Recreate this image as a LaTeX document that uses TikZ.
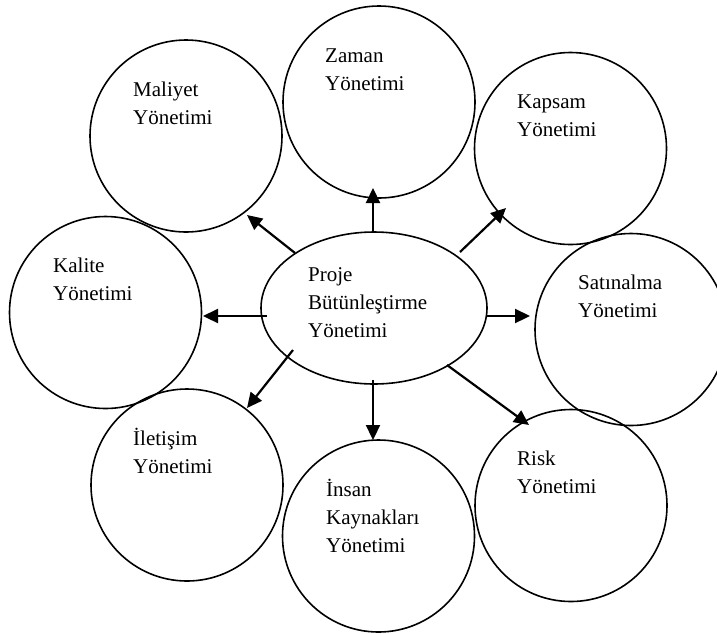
\documentclass[tikz,border=0pt]{standalone}
\usepackage{fontspec}
\setmainfont{Liberation Serif}
\usetikzlibrary{arrows.meta,calc,shapes.geometric}
\begin{document}
\begin{tikzpicture}[x=1pt,y=-1pt,
  area/.style={circle,draw,line width=1.6pt,minimum size=192pt,inner sep=0pt},
  hub/.style={ellipse,draw,line width=1.6pt,minimum width=226pt,minimum height=152pt,inner sep=0pt},
  txt/.style={anchor=north west,align=left,inner sep=0pt,font=\fontsize{21}{28}\selectfont},
  link/.style={line width=2.2pt,-{Triangle[length=15pt,width=14pt]}}]
\useasboundingbox (0,0) rectangle (717,633);

% knowledge areas around the integration hub
\node[area] (zaman)    at (379,102)     {};
\node[area] (maliyet)  at (186,136)     {};
\node[area] (kapsam)   at (570.5,148.5) {};
\node[area] (kalite)   at (105.5,312.5) {};
\node[area] (satin)    at (631,329.5)   {};
\node[area] (iletisim) at (187,485)     {};
\node[area] (insan)    at (378.5,536)   {};
\node[area] (risk)     at (571,505.5)   {};
\node[hub]  (pb)       at (374,308)     {};

% labels, set in the upper left part of each shape
\node[txt] (zamant)    at ($(zaman)+(-54,-59.6)$)    {\strut Zaman\\\strut Yönetimi};
\node[txt] (maliyett)  at ($(maliyet)+(-53,-59.6)$)  {\strut Maliyet\\\strut Yönetimi};
\node[txt] (kapsamt)   at ($(kapsam)+(-53.5,-60)$)   {\strut Kapsam\\\strut Yönetimi};
\node[txt] (kalitet)   at ($(kalite)+(-52.5,-59.6)$) {\strut Kalite\\\strut Yönetimi};
\node[txt] (satint)    at ($(satin)+(-53,-59.6)$)    {\strut Satınalma\\\strut Yönetimi};
\node[txt] (iletisimt) at ($(iletisim)+(-54,-59.6)$) {\strut İletişim\\\strut Yönetimi};
\node[txt] (insant)    at ($(insan)+(-52.5,-59)$)    {\strut İnsan\\\strut Kaynakları\\\strut Yönetimi};
\node[txt] (riskt)     at ($(risk)+(-54,-60)$)       {\strut Risk\\\strut Yönetimi};
\node[txt] (pbt)       at ($(pb)+(-66,-45.9)$)       {\strut Proje\\\strut Bütünleştirme\\\strut Yönetimi};

% arrow ends
\coordinate (zs) at (373,233);   \coordinate (ze) at (373,188);
\coordinate (ms) at (295,253);   \coordinate (me) at (247,215);
\coordinate (ks) at (460,252);   \coordinate (ke) at (506,208);
\coordinate (ls) at (267,316);   \coordinate (le) at (203,316);
\coordinate (ss) at (487,316);   \coordinate (se) at (530,316);
\coordinate (is) at (293,350);   \coordinate (ie) at (247,408);
\coordinate (ns) at (373,380);   \coordinate (ne) at (373,440);
\coordinate (rs) at (447,365);   \coordinate (re) at (529,425);

\draw[link] (zs) -- (ze);
\draw[link] (ms) -- (me);
\draw[link] (ks) -- (ke);
\draw[link] (ls) -- (le);
\draw[link] (ss) -- (se);
\draw[link] (is) -- (ie);
\draw[link] (ns) -- (ne);
\draw[link] (rs) -- (re);
\end{tikzpicture}
\end{document}
